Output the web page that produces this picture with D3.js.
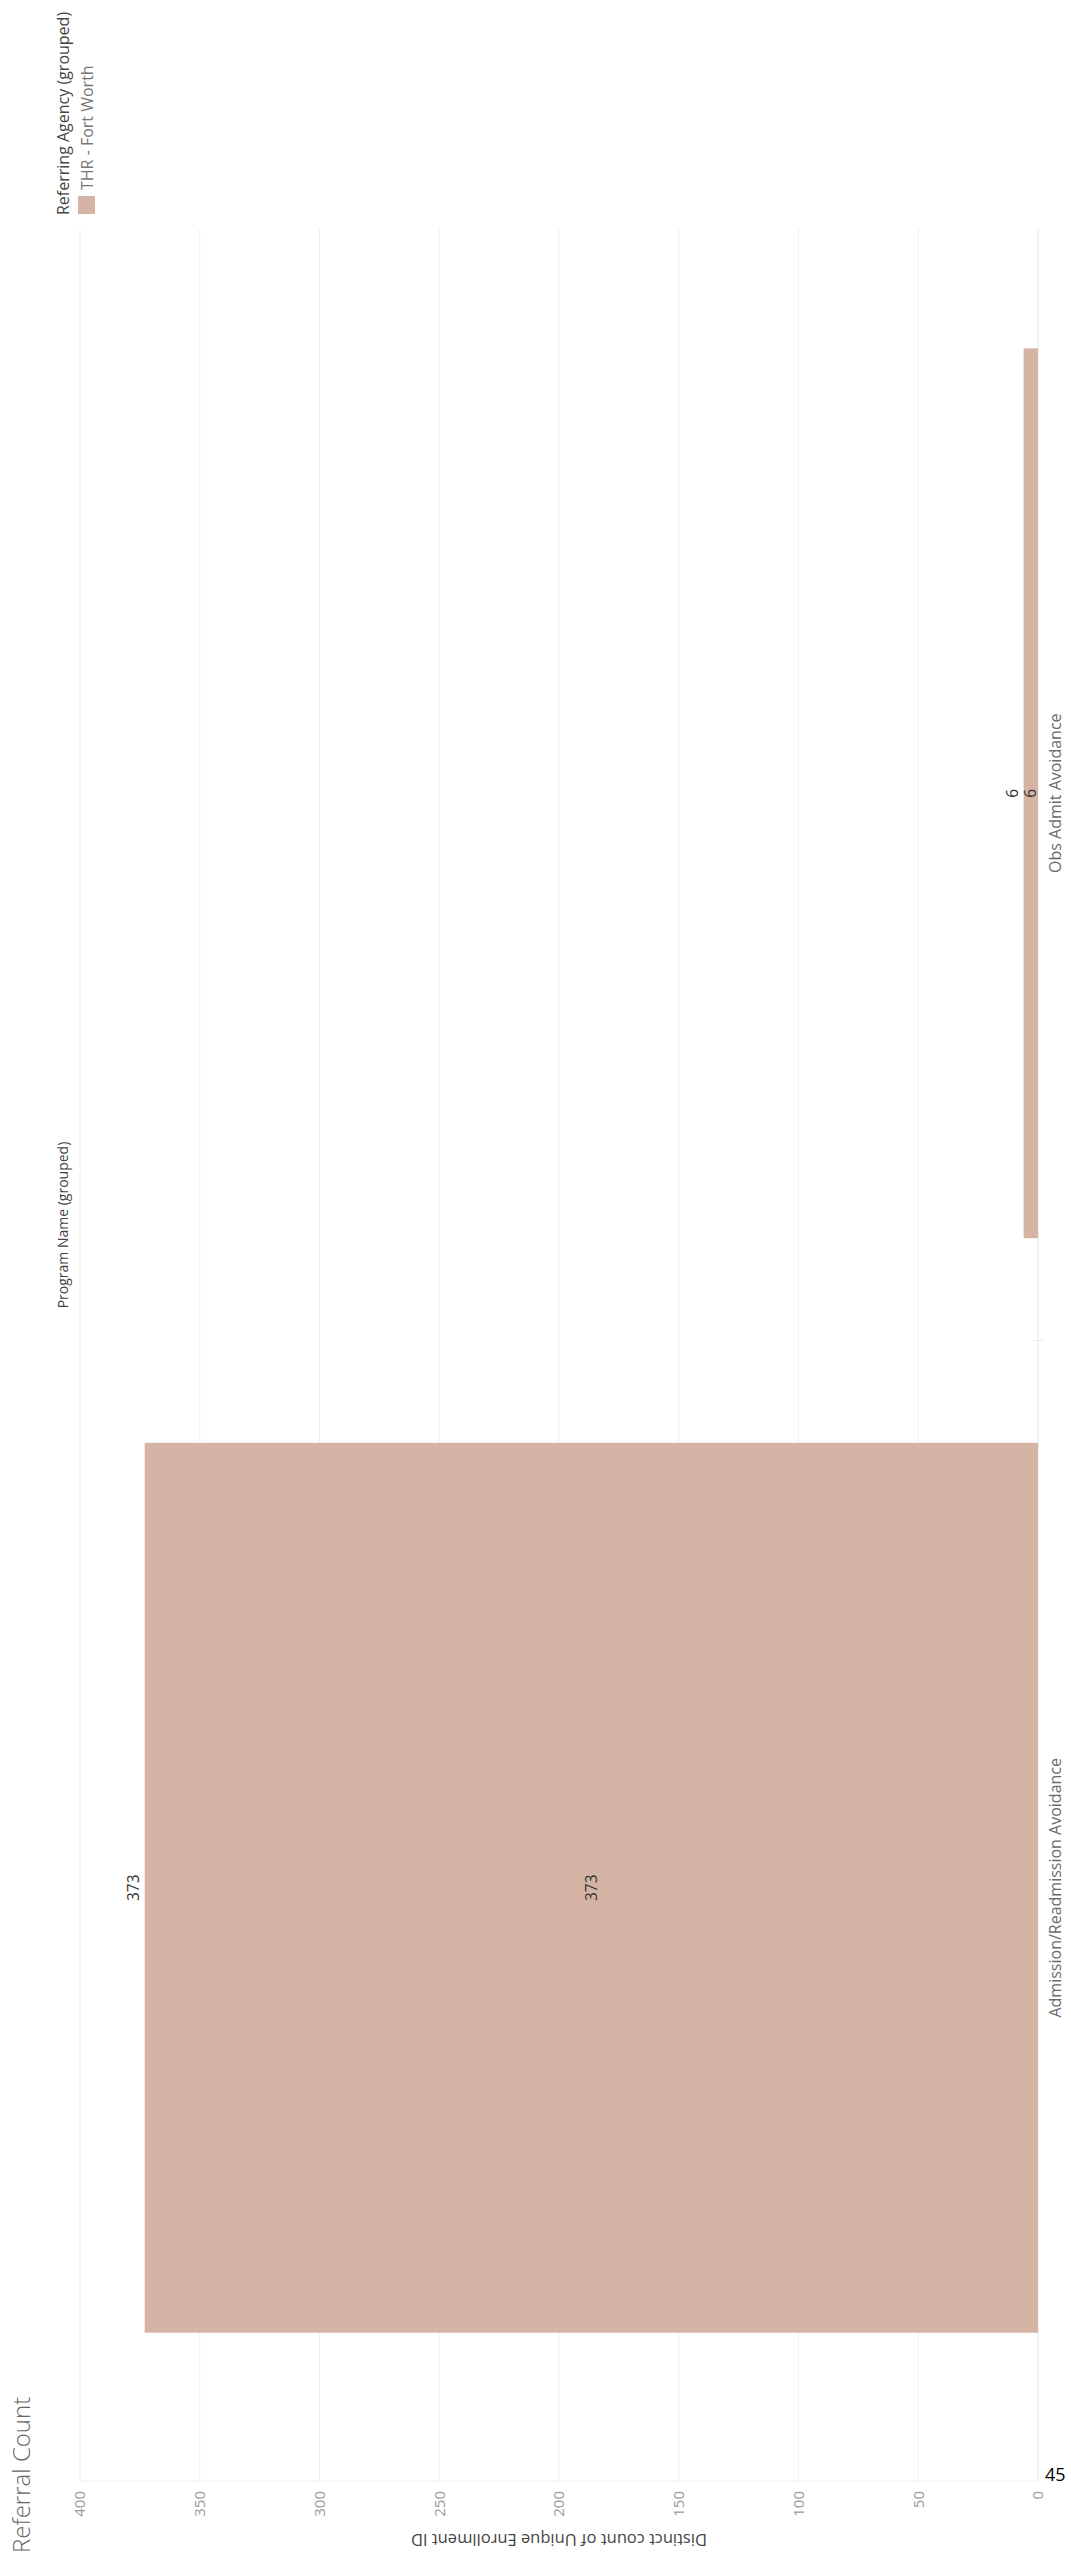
<!DOCTYPE html>
<html>
<head>
<meta charset="utf-8">
<script src="https://cdnjs.cloudflare.com/ajax/libs/d3/7.8.5/d3.min.js"></script>
<style>
  html, body { margin: 0; padding: 0; background: #ffffff; }
  svg { display: block; }
  text { font-family: "Open Sans", "Noto Sans", sans-serif; }
</style>
</head>
<body>
<script>
// ---- data ----
const categories = ["Obs Admit Avoidance", "Admission/Readmission Avoidance"];
const values = [6, 373];
const tickValues = [0, 50, 100, 150, 200, 250, 300, 350, 400];
const legendTitle = "Referring Agency  (grouped)";
const legendItems = ["THR - Fort Worth"];
const columnHeader = "Program Name (grouped)";
const axisTitle = "Distinct count of Unique Enrollment ID";
const chartTitle = "Referral Count";
const pageNumber = "45";

// ---- layout ----
const W = 1071, H = 2560;
const barColor = "#d5b4a5";

const svg = d3.select("body").append("svg")
  .attr("width", W).attr("height", H);

svg.append("rect").attr("width", W).attr("height", H).attr("fill", "#ffffff");

// value axis runs right (0) to left (400)
const x = d3.scaleLinear().domain([0, 400]).range([1038, 80]);
// category bands run top to bottom
const plotTop = 229, plotBottom = 2481;
const y = d3.scaleBand().domain(categories).range([plotTop, 2452])
  .paddingInner(0.187).paddingOuter(0.109);

// gridlines
svg.append("g").selectAll("line").data(tickValues).join("line")
  .attr("x1", d => x(d)).attr("x2", d => x(d))
  .attr("y1", plotTop).attr("y2", plotBottom)
  .attr("stroke", d => d === 0 ? "#e6e6e6" : "#efefef")
  .attr("stroke-width", 1);

// axis baseline
svg.append("line")
  .attr("x1", x(400)).attr("x2", x(0))
  .attr("y1", plotBottom).attr("y2", plotBottom)
  .attr("stroke", "#efefef");

// pane divider tick
const divY = (y(categories[0]) + y.bandwidth() + y(categories[1])) / 2;
svg.append("line")
  .attr("x1", x(0) - 6).attr("x2", x(0) + 6)
  .attr("y1", divY).attr("y2", divY)
  .attr("stroke", "#eeeeee");

// bars
const data = categories.map((c, i) => ({ c, v: values[i] }));
svg.append("g").selectAll("rect").data(data).join("rect")
  .attr("x", d => x(d.v))
  .attr("width", d => x(0) - x(d.v))
  .attr("y", d => y(d.c))
  .attr("height", y.bandwidth())
  .attr("fill", barColor);

// value labels (end + middle)
const lab = svg.append("g").attr("font-size", 15.5).attr("fill", "#333333");
data.forEach(d => {
  const cy = y(d.c) + y.bandwidth() / 2;
  [x(d.v) - 11, x(d.v / 2)].forEach(px => {
    lab.append("text")
      .attr("transform", `translate(${px},${cy}) rotate(-90)`)
      .attr("text-anchor", "middle")
      .attr("dy", "0.35em")
      .text(d.v);
  });
});

// category labels
svg.append("g").selectAll("text").data(categories).join("text")
  .attr("transform", d => `translate(1055,${y(d) + y.bandwidth() / 2}) rotate(-90)`)
  .attr("text-anchor", "middle")
  .attr("dy", "0.35em")
  .attr("font-size", 16)
  .attr("fill", "#6b6b6b")
  .text(d => d);

// tick labels
svg.append("g").selectAll("text").data(tickValues).join("text")
  .attr("transform", d => `translate(${x(d)},2491) rotate(-90)`)
  .attr("text-anchor", "end")
  .attr("dy", "0.35em")
  .attr("font-size", 15)
  .attr("fill", "#9a9a9a")
  .text(d => d);

// axis title (upside down)
svg.append("text")
  .attr("transform", `translate(${(x(0) + x(400)) / 2},2540) rotate(180)`)
  .attr("text-anchor", "middle")
  .attr("dy", "0.35em")
  .attr("font-size", 16.5)
  .attr("fill", "#444444")
  .text(axisTitle);

// chart title
svg.append("text")
  .attr("transform", "translate(30,2553) rotate(-90)")
  .attr("text-anchor", "start")
  .attr("font-size", 24)
  .attr("font-weight", 300)
  .attr("fill", "#666666")
  .text(chartTitle);

// column header
svg.append("text")
  .attr("transform", "translate(63,1225) rotate(-90)")
  .attr("text-anchor", "middle")
  .attr("dy", "0.35em")
  .attr("font-size", 14)
  .attr("fill", "#444444")
  .text(columnHeader);

// legend
svg.append("text")
  .attr("transform", "translate(63,215) rotate(-90)")
  .attr("text-anchor", "start")
  .attr("dy", "0.35em")
  .attr("font-size", 16)
  .attr("fill", "#444444")
  .text(legendTitle);

const leg = svg.append("g");
legendItems.forEach((t, i) => {
  leg.append("rect")
    .attr("x", 78).attr("y", 196 - i * 150)
    .attr("width", 17).attr("height", 18)
    .attr("fill", barColor);
  leg.append("text")
    .attr("transform", `translate(87,${190 - i * 150}) rotate(-90)`)
    .attr("text-anchor", "start")
    .attr("dy", "0.35em")
    .attr("font-size", 16)
    .attr("fill", "#777777")
    .text(t);
});

// page number
svg.append("text")
  .attr("x", 1045).attr("y", 2481)
  .attr("font-family", "'Liberation Sans', Arial, sans-serif")
  .attr("font-size", 18)
  .attr("fill", "#000000")
  .text(pageNumber);
</script>
</body>
</html>
